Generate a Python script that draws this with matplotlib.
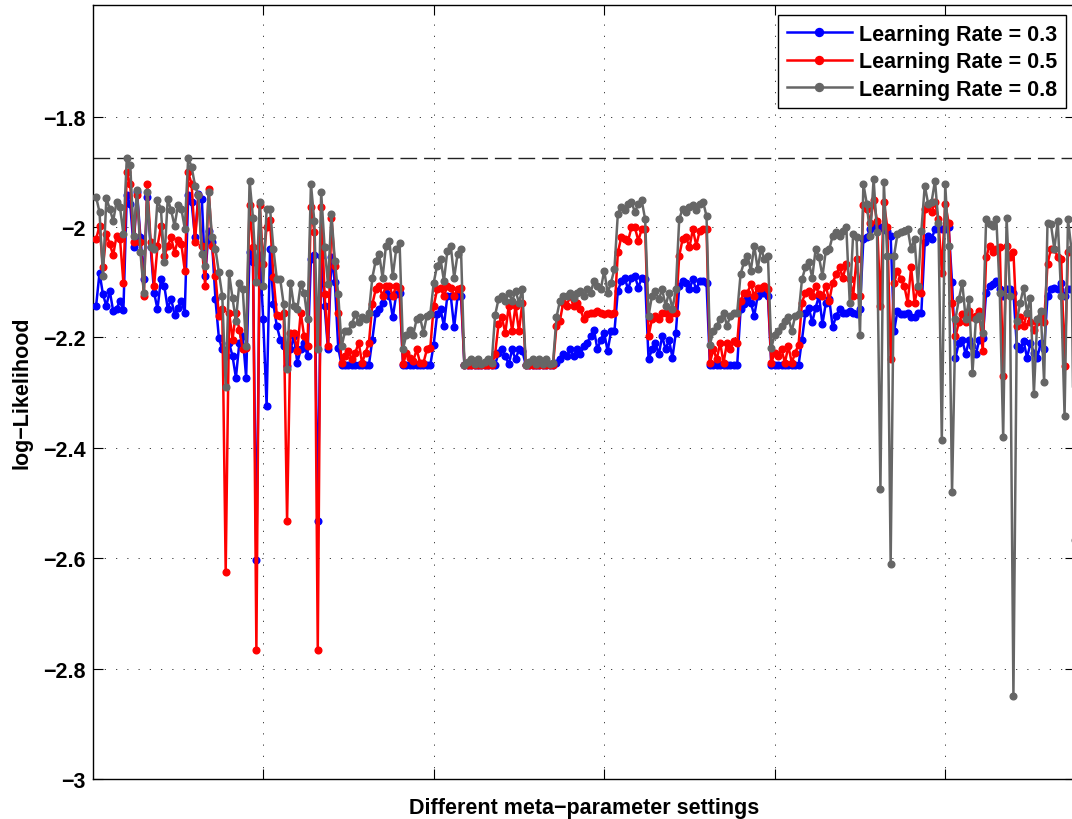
import numpy as np
import matplotlib
matplotlib.use('Agg')
import matplotlib.pyplot as plt
from matplotlib.ticker import FuncFormatter

# log-likelihood per meta-parameter setting, 9 settings per row
lr03 = [
    -2.143, -2.083, -2.122, -2.143, -2.116, -2.152, -2.148, -2.134, -2.151,
    -1.943, -1.958, -2.037, -1.937, -2.019, -2.095, -1.946, -2.037, -2.119,
    -2.149, -2.095, -2.107, -2.148, -2.130, -2.159, -2.146, -2.134, -2.155,
    -1.943, -1.955, -2.019, -1.940, -1.949, -2.089, -2.007, -2.028, -2.131,
    -2.201, -2.222, -2.234, -2.210, -2.234, -2.273, -2.210, -2.198, -2.273,
    -2.046, -2.064, -2.604, -2.050, -2.167, -2.324, -2.040, -2.140, -2.180,
    -2.204, -2.216, -2.252, -2.222, -2.198, -2.246, -2.222, -2.210, -2.234,
    -2.058, -2.050, -2.533, -2.052, -2.143, -2.222, -2.055, -2.100, -2.219,
    -2.250, -2.250, -2.250, -2.250, -2.250, -2.250, -2.250, -2.250, -2.250,
    -2.204, -2.155, -2.149, -2.137, -2.119, -2.125, -2.164, -2.122, -2.119,
    -2.250, -2.250, -2.250, -2.250, -2.250, -2.250, -2.250, -2.250, -2.250,
    -2.213, -2.158, -2.149, -2.179, -2.125, -2.125, -2.182, -2.125, -2.125,
    -2.250, -2.250, -2.250, -2.250, -2.250, -2.250, -2.250, -2.250, -2.250,
    -2.250, -2.228, -2.222, -2.234, -2.249, -2.222, -2.240, -2.222, -2.225,
    -2.250, -2.250, -2.250, -2.250, -2.250, -2.250, -2.250, -2.250, -2.250,
    -2.246, -2.240, -2.231, -2.234, -2.222, -2.234, -2.222, -2.231, -2.216,
    -2.210, -2.198, -2.186, -2.222, -2.204, -2.192, -2.225, -2.189, -2.189,
    -2.116, -2.098, -2.092, -2.113, -2.092, -2.089, -2.110, -2.092, -2.095,
    -2.240, -2.222, -2.210, -2.231, -2.198, -2.222, -2.204, -2.237, -2.192,
    -2.107, -2.098, -2.101, -2.113, -2.095, -2.113, -2.098, -2.098, -2.101,
    -2.250, -2.250, -2.250, -2.250, -2.250, -2.250, -2.250, -2.250, -2.250,
    -2.149, -2.140, -2.128, -2.137, -2.161, -2.125, -2.119, -2.119, -2.125,
    -2.250, -2.250, -2.250, -2.250, -2.250, -2.250, -2.250, -2.250, -2.250,
    -2.204, -2.155, -2.146, -2.173, -2.146, -2.125, -2.176, -2.137, -2.131,
    -2.182, -2.161, -2.149, -2.155, -2.155, -2.152, -2.155, -2.158, -2.149,
    -2.022, -2.019, -2.004, -2.001, -1.998, -2.001, -2.004, -2.007, -2.016,
    -2.189, -2.152, -2.158, -2.158, -2.155, -2.164, -2.164, -2.155, -2.155,
    -2.028, -2.016, -2.022, -2.004, -2.001, -2.004, -2.004, -2.001, -2.100,
    -2.237, -2.210, -2.204, -2.231, -2.204, -2.216, -2.231, -2.204, -2.201,
    -2.119, -2.107, -2.104, -2.098, -2.113, -2.125, -2.113, -2.113, -2.119,
    -2.216, -2.222, -2.207, -2.237, -2.210, -2.228, -2.237, -2.210, -2.222,
    -2.125, -2.113, -2.110, -2.113, -2.101, -2.125, -2.113, -2.113, -2.120,
]
lr05 = [
    -2.022, -1.998, -2.073, -2.013, -2.031, -2.051, -2.016, -2.021, -2.101,
    -1.901, -1.922, -2.027, -1.943, -2.028, -2.125, -1.922, -2.028, -2.107,
    -2.035, -1.999, -2.053, -2.035, -2.019, -2.047, -2.023, -2.031, -2.079,
    -1.901, -1.922, -2.027, -1.943, -2.035, -2.107, -1.931, -2.034, -2.088,
    -2.161, -2.149, -2.625, -2.155, -2.204, -2.155, -2.186, -2.222, -2.219,
    -1.961, -2.037, -2.767, -1.961, -2.067, -2.000, -1.988, -2.091, -2.160,
    -2.161, -2.155, -2.533, -2.192, -2.192, -2.225, -2.155, -2.198, -2.216,
    -1.964, -2.010, -2.767, -1.964, -2.122, -2.216, -1.983, -2.070, -2.155,
    -2.246, -2.234, -2.225, -2.240, -2.228, -2.210, -2.246, -2.228, -2.210,
    -2.140, -2.113, -2.107, -2.125, -2.107, -2.107, -2.125, -2.107, -2.110,
    -2.249, -2.228, -2.237, -2.243, -2.222, -2.246, -2.246, -2.222, -2.219,
    -2.143, -2.113, -2.110, -2.125, -2.107, -2.110, -2.125, -2.113, -2.110,
    -2.250, -2.250, -2.250, -2.250, -2.250, -2.250, -2.250, -2.250, -2.250,
    -2.231, -2.176, -2.164, -2.192, -2.143, -2.189, -2.143, -2.189, -2.137,
    -2.250, -2.250, -2.250, -2.250, -2.250, -2.250, -2.250, -2.250, -2.250,
    -2.179, -2.170, -2.137, -2.143, -2.125, -2.143, -2.137, -2.149, -2.167,
    -2.158, -2.155, -2.155, -2.152, -2.155, -2.158, -2.155, -2.158, -2.155,
    -2.046, -2.019, -2.022, -2.025, -2.001, -2.001, -2.025, -2.004, -2.004,
    -2.198, -2.167, -2.161, -2.167, -2.155, -2.155, -2.167, -2.155, -2.155,
    -2.052, -2.022, -2.019, -2.037, -2.004, -2.034, -2.007, -2.004, -2.004,
    -2.246, -2.222, -2.240, -2.210, -2.246, -2.210, -2.222, -2.207, -2.210,
    -2.134, -2.119, -2.119, -2.104, -2.125, -2.110, -2.110, -2.107, -2.113,
    -2.246, -2.228, -2.234, -2.222, -2.246, -2.216, -2.246, -2.228, -2.213,
    -2.137, -2.119, -2.116, -2.125, -2.107, -2.122, -2.125, -2.107, -2.134,
    -2.101, -2.086, -2.073, -2.092, -2.067, -2.095, -2.125, -2.058, -2.125,
    -1.961, -1.967, -1.992, -1.952, -1.989, -2.143, -1.955, -2.000, -2.240,
    -2.101, -2.080, -2.095, -2.107, -2.137, -2.073, -2.137, -2.110, -2.119,
    -1.967, -1.961, -1.973, -1.955, -1.986, -2.083, -1.958, -1.992, -2.137,
    -2.198, -2.173, -2.158, -2.173, -2.152, -2.164, -2.161, -2.152, -2.225,
    -2.055, -2.034, -2.046, -2.040, -2.037, -2.270, -2.034, -2.055, -2.046,
    -2.179, -2.164, -2.179, -2.155, -2.173, -2.186, -2.173, -2.161, -2.173,
    -2.067, -2.040, -2.040, -2.055, -2.058, -2.252, -2.046, -2.040, -2.100,
]
lr08 = [
    -1.946, -1.973, -2.089, -1.948, -1.967, -1.989, -1.955, -1.964, -2.013,
    -1.875, -1.887, -2.016, -1.934, -2.046, -2.119, -1.937, -2.037, -2.040,
    -1.952, -1.967, -2.064, -1.949, -1.970, -1.998, -1.961, -1.967, -2.003,
    -1.875, -1.891, -1.925, -1.943, -2.049, -2.070, -1.937, -2.019, -2.040,
    -2.082, -2.125, -2.290, -2.084, -2.129, -2.170, -2.101, -2.113, -2.216,
    -1.916, -1.983, -2.100, -1.955, -2.107, -1.967, -1.967, -2.040, -2.095,
    -2.095, -2.140, -2.258, -2.101, -2.143, -2.149, -2.104, -2.119, -2.167,
    -1.922, -1.990, -2.222, -1.937, -2.037, -2.104, -1.976, -2.061, -2.122,
    -2.216, -2.189, -2.189, -2.176, -2.158, -2.173, -2.164, -2.167, -2.155,
    -2.092, -2.061, -2.049, -2.092, -2.034, -2.025, -2.089, -2.040, -2.030,
    -2.221, -2.195, -2.186, -2.195, -2.167, -2.164, -2.192, -2.161, -2.158,
    -2.101, -2.070, -2.058, -2.098, -2.043, -2.034, -2.092, -2.049, -2.040,
    -2.250, -2.244, -2.240, -2.248, -2.240, -2.248, -2.244, -2.240, -2.246,
    -2.160, -2.131, -2.125, -2.134, -2.119, -2.134, -2.116, -2.137, -2.113,
    -2.250, -2.244, -2.240, -2.248, -2.240, -2.248, -2.240, -2.248, -2.246,
    -2.164, -2.134, -2.125, -2.125, -2.119, -2.128, -2.119, -2.116, -2.125,
    -2.113, -2.119, -2.098, -2.107, -2.113, -2.079, -2.119, -2.101, -2.076,
    -1.976, -1.964, -1.970, -1.958, -1.955, -1.973, -1.958, -1.952, -1.986,
    -2.161, -2.125, -2.116, -2.131, -2.113, -2.143, -2.119, -2.149, -2.113,
    -1.986, -1.967, -1.973, -1.964, -1.961, -1.970, -1.958, -1.955, -1.980,
    -2.213, -2.189, -2.179, -2.167, -2.155, -2.179, -2.161, -2.155, -2.155,
    -2.085, -2.064, -2.052, -2.079, -2.034, -2.076, -2.040, -2.058, -2.052,
    -2.219, -2.195, -2.189, -2.179, -2.170, -2.164, -2.189, -2.161, -2.158,
    -2.095, -2.073, -2.064, -2.092, -2.040, -2.055, -2.089, -2.043, -2.040,
    -2.016, -2.010, -2.016, -2.007, -2.001, -2.137, -2.013, -2.019, -2.195,
    -1.922, -1.958, -2.016, -1.913, -2.010, -2.474, -1.919, -2.052, -2.610,
    -2.052, -2.013, -2.010, -2.007, -2.004, -2.040, -2.022, -2.107, -2.007,
    -1.925, -1.958, -1.955, -1.916, -1.992, -2.386, -1.922, -2.034, -2.481,
    -2.167, -2.131, -2.101, -2.167, -2.131, -2.264, -2.167, -2.161, -2.192,
    -1.986, -1.995, -1.998, -1.986, -2.119, -2.381, -1.983, -2.125, -2.849,
    -2.170, -2.137, -2.110, -2.155, -2.128, -2.302, -2.167, -2.152, -2.281,
    -1.992, -1.995, -2.040, -1.989, -2.125, -2.342, -1.986, -2.040, -2.567,
]

labels = ['Learning Rate = 0.3', 'Learning Rate = 0.5', 'Learning Rate = 0.8']
colors = ['#0000ff', '#ff0000', '#666666']
yticks = [-3.0, -2.8, -2.6, -2.4, -2.2, -2.0, -1.8]
xticks = [50, 100, 150, 200, 250]

plt.rcParams['font.family'] = ['Liberation Sans', 'DejaVu Sans']
plt.rcParams['font.weight'] = 'bold'
plt.rcParams['axes.labelweight'] = 'bold'

fig = plt.figure(figsize=(10.72, 8.2), dpi=100)
ax = fig.add_axes([92.7 / 1072, 40 / 820, 982.1 / 1072, 774 / 820])

x = np.arange(1, len(lr03) + 1)
for y, c, lab in zip([lr03, lr05, lr08], colors, labels):
    ax.plot(x, y, '-o', color=c, lw=1.8, ms=4.8, mec=c, mfc=c, label=lab, zorder=3)

# best value reached
ax.axhline(max(lr08), color='#222222', lw=1.0, ls=(0, (12, 5)), zorder=1.5)

ax.set_xlim(0, 288)
ax.set_ylim(-3, -1.598)
ax.set_xticks(xticks)
ax.set_xticklabels([])
ax.set_yticks(yticks)
ax.yaxis.set_major_formatter(FuncFormatter(lambda v, _: ('%g' % v).replace('-', '\u2212')))
ax.tick_params(direction='in', length=7, width=0.8, top=True, right=True,
               labelsize=15.5, pad=5)
ax.grid(True, color='#222222', lw=0.6, ls=(0, (1.5, 12)))
for s in ax.spines.values():
    s.set_linewidth(1.0)

ax.set_xlabel('Different meta\u2212parameter settings', fontsize=15.5, labelpad=8)
ax.set_ylabel('log\u2212Likelihood', fontsize=15.5, labelpad=8)

leg = ax.legend(loc='upper right', bbox_to_anchor=(1066 / 1072, 1 - 16 / 820),
                bbox_transform=fig.transFigure, borderaxespad=0, fontsize=15.5,
                fancybox=False, edgecolor='black', framealpha=1, handlelength=3.0,
                handletextpad=0.35, labelspacing=0.3, borderpad=0.4, markerscale=1.2)
leg.get_frame().set_linewidth(1.0)

plt.savefig('out.png', dpi=100)
